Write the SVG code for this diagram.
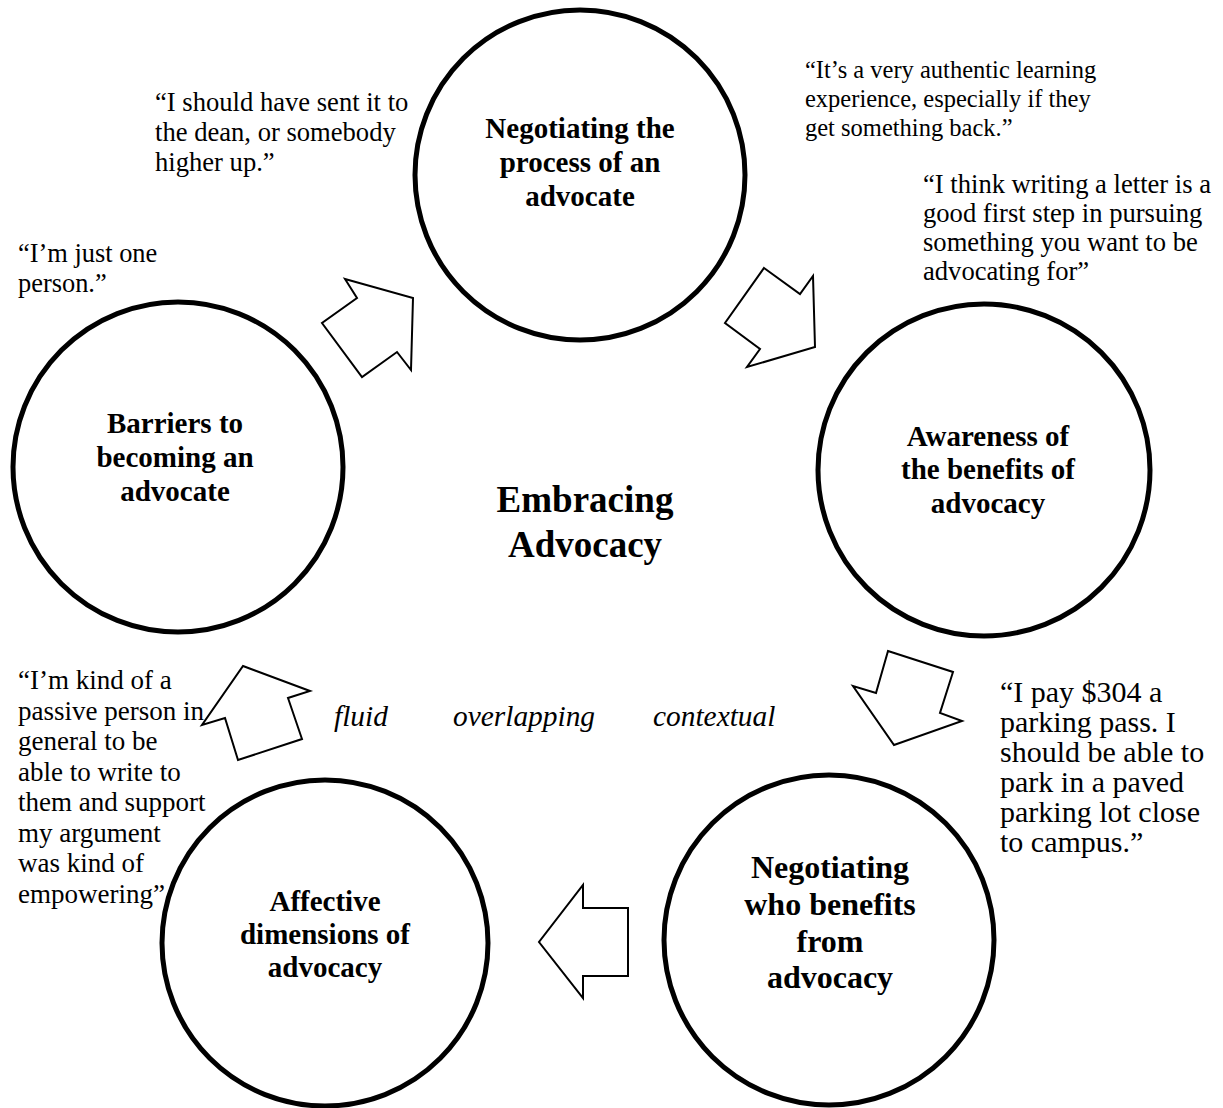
<svg xmlns="http://www.w3.org/2000/svg" width="1223" height="1108" viewBox="0 0 1223 1108">
<style>
.c{fill:#fff;stroke:#000;stroke-width:5}
.a{fill:#fff;stroke:#000;stroke-width:2;stroke-linejoin:miter}
.n{font-family:"Liberation Serif","Times New Roman",serif;font-weight:bold;font-size:29px;text-anchor:middle;fill:#000}
.q{font-family:"Liberation Serif","Times New Roman",serif;font-size:26.6px;fill:#000}
.i{font-family:"Liberation Serif","Times New Roman",serif;font-style:italic;font-size:29.4px;fill:#000}
.t{font-family:"Liberation Serif","Times New Roman",serif;font-weight:bold;font-size:37px;text-anchor:middle;fill:#000}
</style>
<rect width="1223" height="1108" fill="#fff"/>
<g id="connectors">
<polygon class="a" points="345,279 413,298 411,370 397,352 362,377 322,323 357,298"/>
<polygon class="a" points="764,268 800,294 813,276 815,347 747,367 760,349 725,323"/>
<polygon class="a" points="888,651 953,672 940,713 962,721 894,745 853,686 876,693"/>
<polygon class="a" points="583,885 583,908 628,908 628,976 583,976 583,998 539,942"/>
<polygon class="a" points="243,666 310,691 288,698 302,739 238,760 225,718 202,725"/>
</g>
<g id="node-top">
<circle class="c" cx="580" cy="175" r="165"/>
<text class="n" x="580" y="138">Negotiating the</text>
<text class="n" x="580" y="172">process of an</text>
<text class="n" x="580" y="206">advocate</text>
</g>
<g id="node-right">
<circle class="c" cx="984" cy="470" r="166"/>
<text class="n" x="988" y="446">Awareness of</text>
<text class="n" x="988" y="479">the benefits of</text>
<text class="n" x="988" y="513">advocacy</text>
</g>
<g id="node-bottom-right">
<circle class="c" cx="829" cy="940" r="165"/>
<text class="n" x="830" y="878" style="font-size:32px">Negotiating</text>
<text class="n" x="830" y="915" style="font-size:32px">who benefits</text>
<text class="n" x="830" y="952" style="font-size:32px">from</text>
<text class="n" x="830" y="988" style="font-size:32px">advocacy</text>
</g>
<g id="node-bottom-left">
<circle class="c" cx="325" cy="943" r="163"/>
<text class="n" x="325" y="911">Affective</text>
<text class="n" x="325" y="944">dimensions of</text>
<text class="n" x="325" y="977">advocacy</text>
</g>
<g id="node-left">
<circle class="c" cx="178" cy="467" r="165"/>
<text class="n" x="175" y="433">Barriers to</text>
<text class="n" x="175" y="467">becoming an</text>
<text class="n" x="175" y="501">advocate</text>
</g>
<g id="center">
<text class="t" x="585" y="512">Embracing</text>
<text class="t" x="585" y="557">Advocacy</text>
<text class="i" x="334" y="726">fluid</text>
<text class="i" x="453" y="726">overlapping</text>
<text class="i" x="653" y="726">contextual</text>
</g>
<g id="quotes">
<text class="q"><tspan x="155" y="111">“I should have sent it to</tspan><tspan x="155" y="141">the dean, or somebody</tspan><tspan x="155" y="171">higher up.”</tspan></text>
<text class="q" style="font-size:26.4px"><tspan x="18" y="262">“I’m just one</tspan><tspan x="18" y="292">person.”</tspan></text>
<text class="q" style="font-size:24.5px"><tspan x="805" y="78">“It’s a very authentic learning</tspan><tspan x="805" y="107">experience, especially if they</tspan><tspan x="805" y="136">get something back.”</tspan></text>
<text class="q"><tspan x="923" y="193">“I think writing a letter is a</tspan><tspan x="923" y="222">good first step in pursuing</tspan><tspan x="923" y="251">something you want to be</tspan><tspan x="923" y="280">advocating for”</tspan></text>
<text class="q" style="font-size:30px"><tspan x="1000" y="702">“I pay $304 a</tspan><tspan x="1000" y="732">parking pass. I</tspan><tspan x="1000" y="762">should be able to</tspan><tspan x="1000" y="792">park in a paved</tspan><tspan x="1000" y="822">parking lot close</tspan><tspan x="1000" y="852">to campus.”</tspan></text>
<text class="q" style="font-size:27px"><tspan x="18" y="689">“I’m kind of a</tspan><tspan x="18" y="719.5">passive person in</tspan><tspan x="18" y="750">general to be</tspan><tspan x="18" y="780.5">able to write to</tspan><tspan x="18" y="811">them and support</tspan><tspan x="18" y="841.5">my argument</tspan><tspan x="18" y="872">was kind of</tspan><tspan x="18" y="902.5">empowering”</tspan></text>
</g>
</svg>
